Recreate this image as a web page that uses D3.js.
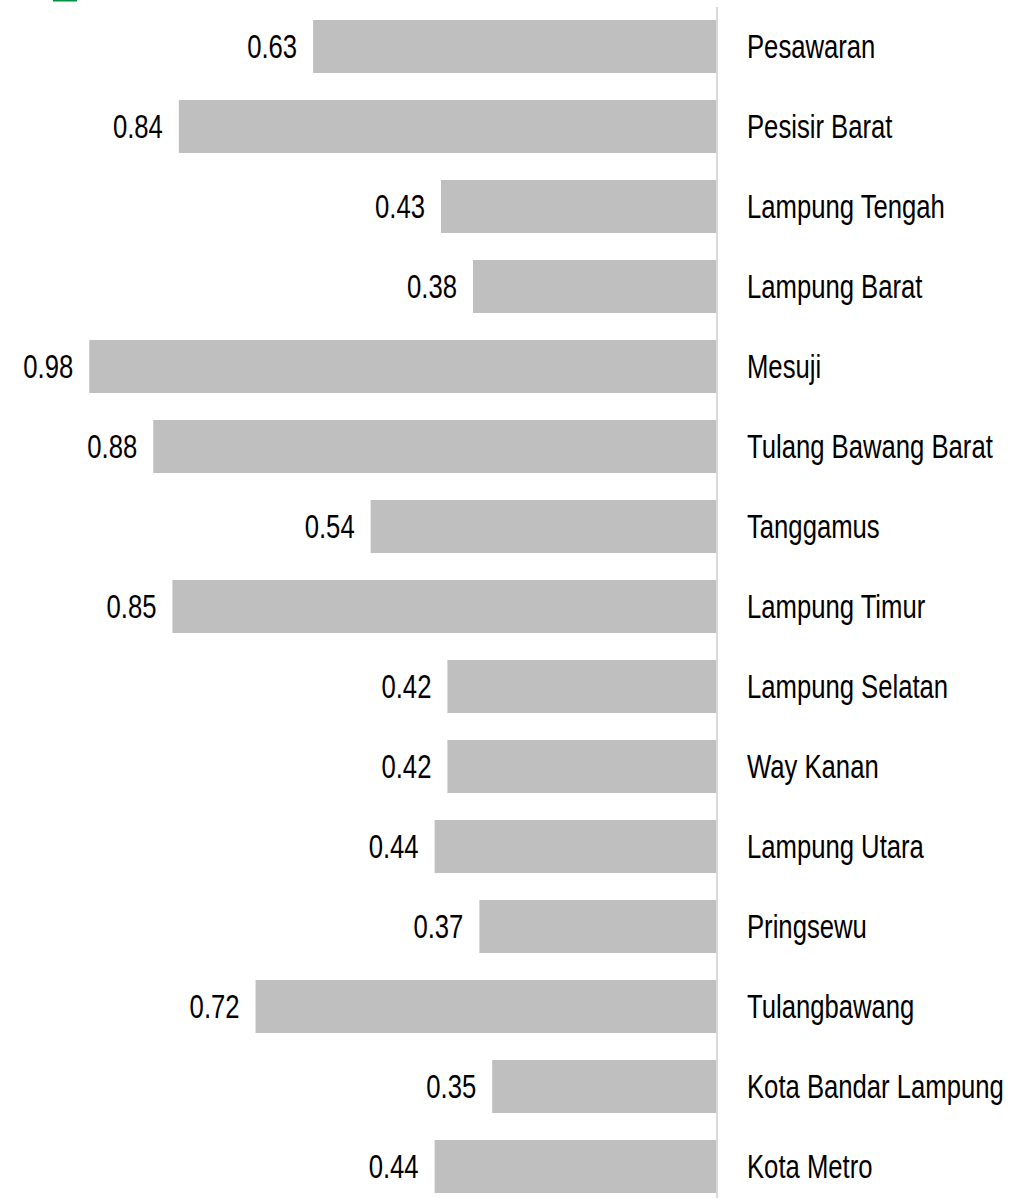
<!DOCTYPE html>
<html>
<head>
<meta charset="utf-8">
<script src="https://cdn.jsdelivr.net/npm/d3@7"></script>
<style>
  html, body { margin: 0; padding: 0; background: #ffffff; }
  svg { display: block; }
  text { font-family: "Liberation Sans", Arial, sans-serif; }
</style>
</head>
<body>
<svg id="chart" width="1011" height="1198"></svg>
<script>
// Regencies / cities of Lampung, top to bottom
const categories = [
  "Pesawaran", "Pesisir Barat", "Lampung Tengah", "Lampung Barat", "Mesuji",
  "Tulang Bawang Barat", "Tanggamus", "Lampung Timur", "Lampung Selatan",
  "Way Kanan", "Lampung Utara", "Pringsewu", "Tulangbawang",
  "Kota Bandar Lampung", "Kota Metro"
];
const values = [
  0.63, 0.84, 0.43, 0.38, 0.98,
  0.88, 0.54, 0.85, 0.42,
  0.42, 0.44, 0.37, 0.72,
  0.35, 0.44
];

const svg = d3.select("#chart");
const fontSize = 32.5;
const narrow = 0.79; // horizontal condensing for a narrow sans look

// Bars grow leftwards from the baseline at x(0)
const x = d3.scaleLinear().domain([0, 1]).range([716, 76.5]);
const y = d3.scaleBand()
  .domain(categories)
  .range([6.5, 6.5 + categories.length * 80])
  .paddingInner(0.3375)
  .paddingOuter(0.16875);

const rows = categories.map((c, i) => ({ name: c, value: values[i] }));
const cy = d => y(d.name) + y.bandwidth() / 2;

// small legend swatch clipped at the top edge
svg.append("rect")
  .attr("x", 53).attr("y", 0).attr("width", 24).attr("height", 1.5)
  .attr("fill", "#00913f");

svg.append("g")
  .selectAll("rect")
  .data(rows)
  .join("rect")
  .attr("x", d => x(d.value))
  .attr("y", d => y(d.name))
  .attr("width", d => x(0) - x(d.value))
  .attr("height", y.bandwidth())
  .attr("fill", "#bfbfbf");

// baseline
svg.append("line")
  .attr("x1", x(0) + 1).attr("x2", x(0) + 1)
  .attr("y1", 7).attr("y2", 1198)
  .attr("stroke", "#d9d9d9")
  .attr("stroke-width", 2);

// value labels
svg.append("g")
  .selectAll("text")
  .data(rows)
  .join("text")
  .attr("transform", d => `translate(${x(d.value) - 16},${cy(d)}) scale(${narrow},1)`)
  .attr("dy", "0.36em")
  .attr("text-anchor", "end")
  .attr("font-size", fontSize)
  .attr("fill", "#000")
  .text(d => d3.format(".2f")(d.value));

// category labels to the right of the baseline
svg.append("g")
  .selectAll("text")
  .data(rows)
  .join("text")
  .attr("transform", d => `translate(747,${cy(d)}) scale(${narrow},1)`)
  .attr("dy", "0.36em")
  .attr("font-size", fontSize)
  .attr("fill", "#000")
  .text(d => d.name);
</script>
</body>
</html>
